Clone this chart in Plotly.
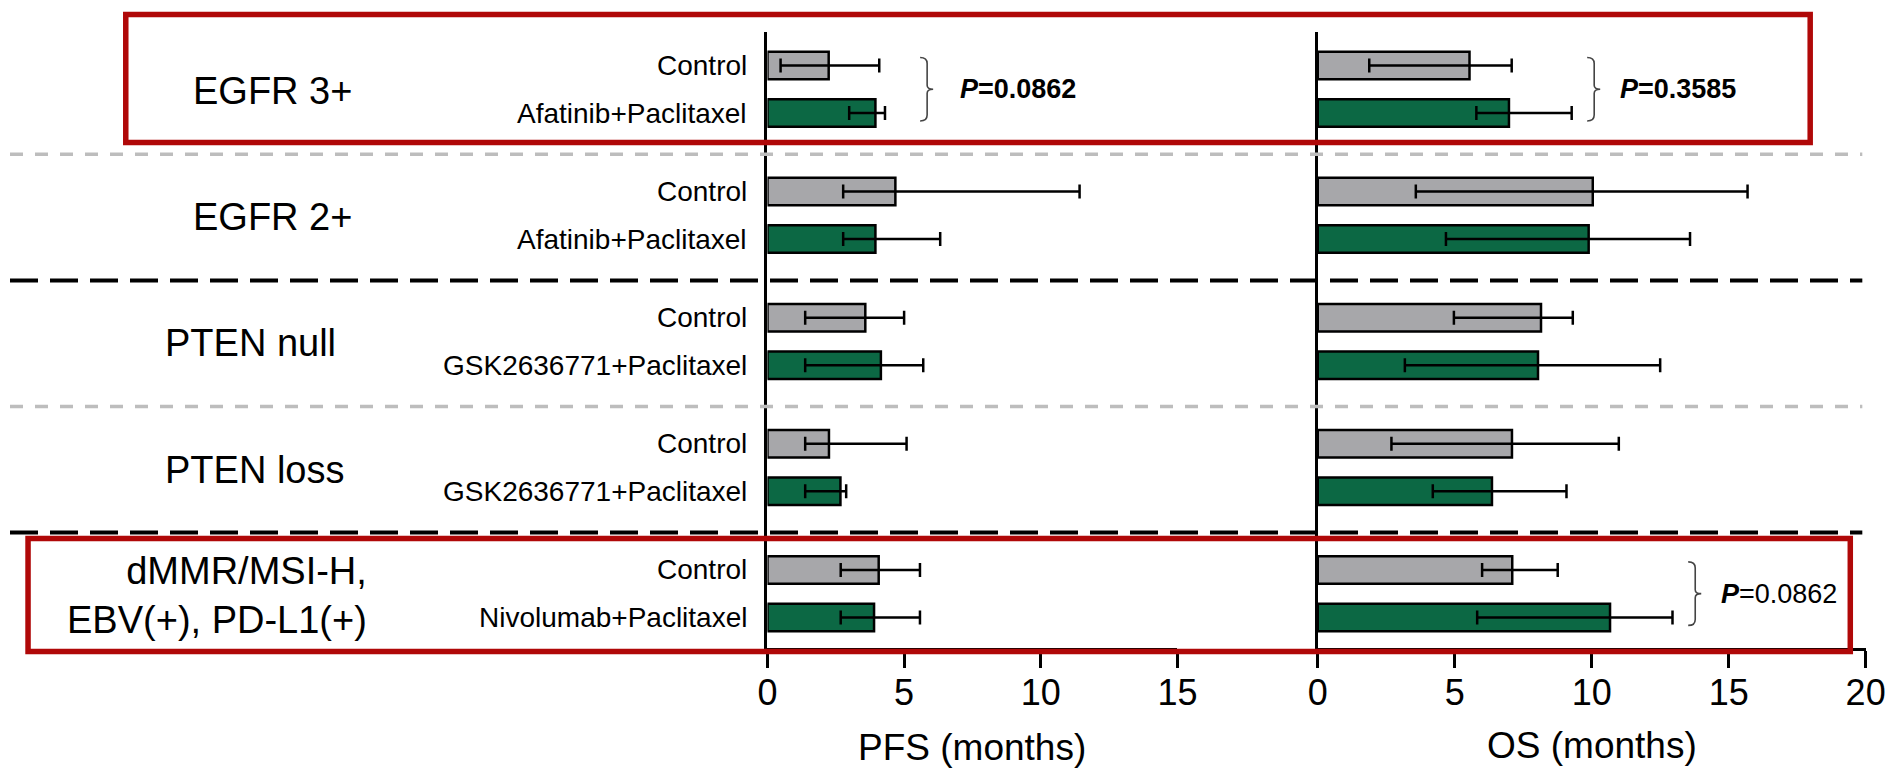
import plotly.graph_objects as go

# ---------------- data ----------------
groups = ["EGFR 3+", "EGFR 2+", "PTEN null", "PTEN loss", "dMMR/MSI-H,<br>EBV(+), PD-L1(+)"]
control_label = "Control"
treatments = ["Afatinib+Paclitaxel", "Afatinib+Paclitaxel", "GSK2636771+Paclitaxel",
              "GSK2636771+Paclitaxel", "Nivolumab+Paclitaxel"]

pfs_ctrl = [2.24, 4.68, 3.58, 2.25, 4.07]
pfs_ctrl_lo = [0.48, 2.77, 1.38, 1.38, 2.68]
pfs_ctrl_hi = [4.09, 11.42, 5.00, 5.09, 5.58]
pfs_trt = [3.95, 3.95, 4.15, 2.67, 3.90]
pfs_trt_lo = [2.99, 2.77, 1.38, 1.38, 2.68]
pfs_trt_hi = [4.30, 6.32, 5.70, 2.88, 5.58]

os_ctrl = [5.54, 10.04, 8.15, 7.09, 7.10]
os_ctrl_lo = [1.88, 3.58, 4.97, 2.69, 6.00]
os_ctrl_hi = [7.08, 15.69, 9.31, 10.99, 8.76]
os_trt = [6.98, 9.89, 8.04, 6.36, 10.67]
os_trt_lo = [5.79, 4.68, 3.18, 4.20, 5.82]
os_trt_hi = [9.27, 13.59, 12.50, 9.08, 12.95]

pvals = [("pfs", 0, "<b><i>P</i>=0.0862</b>"),
         ("os", 0, "<b><i>P</i>=0.3585</b>"),
         ("os", 4, "<b><i>P</i></b>=0.0862")]

pfs_ticks = [0, 5, 10, 15]
os_ticks = [0, 5, 10, 15, 20]

# ---------------- layout constants ----------------
FIG_W, H = 1910, 769
# the captured picture shows the page horizontally as 12 + 0.981 * x
X_OFF, X_SCALE = 12.0, 0.982
FONT = "Liberation Sans, Arial, Helvetica, sans-serif"
GRAY = "#A7A7AA"
GREEN = "#0C6844"
RED = "#B00808"

GROUP_STEP = 126.1
ARM_STEP = 47.5
FIRST_PX = 65.5
AX_TOP_PX, AX_BOT_PX = 31.7, 648.0
PFS_X0, PFS_X1 = 767.7, 1176.7
OS_X0, OS_X1 = 1316.7, 1863.3


def px_x(p):
    return ((p - X_OFF) / X_SCALE) / FIG_W


def px_y(p):
    return 1 - p / H


y_top = AX_TOP_PX - FIRST_PX
y_bot = AX_BOT_PX - FIRST_PX
ctrl_y = [g * GROUP_STEP for g in range(len(groups))]
trt_y = [g * GROUP_STEP + ARM_STEP for g in range(len(groups))]

fig = go.Figure()


def add_bars(vals, lo, hi, ys, color, xa, ya):
    fig.add_trace(go.Bar(
        x=vals, y=ys, orientation="h", width=27.5,
        marker=dict(color=color, line=dict(color="black", width=2.5)),
        error_x=dict(type="data", symmetric=False,
                     array=[h - v for h, v in zip(hi, vals)],
                     arrayminus=[v - l for v, l in zip(vals, lo)],
                     color="black", thickness=2.5, width=7),
        xaxis=xa, yaxis=ya, showlegend=False, hoverinfo="skip"))


add_bars(pfs_ctrl, pfs_ctrl_lo, pfs_ctrl_hi, ctrl_y, GRAY, "x", "y")
add_bars(pfs_trt, pfs_trt_lo, pfs_trt_hi, trt_y, GREEN, "x", "y")
add_bars(os_ctrl, os_ctrl_lo, os_ctrl_hi, ctrl_y, GRAY, "x2", "y2")
add_bars(os_trt, os_trt_lo, os_trt_hi, trt_y, GREEN, "x2", "y2")

xaxis_common = dict(showline=True, linecolor="black", linewidth=2.5, ticks="outside",
                    ticklen=17, tickwidth=2.5, tickcolor="black", showgrid=False,
                    zeroline=False, ticklabelstandoff=-6,
                    tickfont=dict(family=FONT, size=36, color="black"))
yaxis_common = dict(showline=True, linecolor="black", linewidth=2.5, ticks="",
                    showticklabels=False, showgrid=False, zeroline=False,
                    range=[y_bot, y_top], domain=[px_y(AX_BOT_PX), px_y(AX_TOP_PX)])

fig.update_layout(
    width=FIG_W, height=H, autosize=False, margin=dict(l=0, r=0, t=0, b=0, pad=0),
    paper_bgcolor="white", plot_bgcolor="rgba(0,0,0,0)",
    barmode="overlay",
    xaxis=dict(domain=[px_x(PFS_X0), px_x(PFS_X1)], range=[0, 15], tickvals=pfs_ticks,
               anchor="y", **xaxis_common),
    xaxis2=dict(domain=[px_x(OS_X0), px_x(OS_X1)], range=[0, 20], tickvals=os_ticks,
                anchor="y2", **xaxis_common),
    yaxis=dict(anchor="x", **yaxis_common),
    yaxis2=dict(anchor="x2", **yaxis_common),
    font=dict(family=FONT, color="black"),
)

ann = []
for g in range(len(groups)):
    for txt, yy in ((control_label, ctrl_y[g]), (treatments[g], trt_y[g])):
        ann.append(dict(text=txt, x=px_x(749), xref="paper", xanchor="right",
                        y=yy, yref="y", yanchor="middle", showarrow=False,
                        font=dict(size=28, family=FONT, color="black")))

group_label_x = [273.5, 273.5, 252, 256, 370]
for g, name in enumerate(groups):
    mid = (ctrl_y[g] + trt_y[g]) / 2 + 2
    last = g == len(groups) - 1
    ann.append(dict(text=name, x=px_x(group_label_x[g]), xref="paper",
                    xanchor="right" if last else "center", align="right",
                    y=mid, yref="y", yanchor="middle", showarrow=False,
                    font=dict(size=38, family=FONT, color="black")))

ann.append(dict(text="PFS (months)", x=px_x((PFS_X0 + PFS_X1) / 2), xref="paper",
                y=px_y(747), yref="paper", xanchor="center", yanchor="middle",
                showarrow=False, font=dict(size=37, family=FONT, color="black")))
ann.append(dict(text="OS (months)", x=px_x((OS_X0 + OS_X1) / 2), xref="paper",
                y=px_y(745), yref="paper", xanchor="center", yanchor="middle",
                showarrow=False, font=dict(size=37, family=FONT, color="black")))

shapes = []
bracket_x = {("pfs", 0): 927, ("os", 0): 1592.5, ("os", 4): 1693.3}
text_gap = {"pfs": 31, "os": 24}
for panel, g, txt in pvals:
    bx = bracket_x[(panel, g)]
    top = ctrl_y[g] - 8
    bot = trt_y[g] + 8
    mid = (top + bot) / 2
    xl, x0, xr = px_x(bx - 7), px_x(bx), px_x(bx + 6)
    path = (f"M {xl},{top} Q {x0},{top} {x0},{top + 6} L {x0},{mid - 4} "
            f"Q {x0},{mid} {xr},{mid} Q {x0},{mid} {x0},{mid + 4} "
            f"L {x0},{bot - 6} Q {x0},{bot} {xl},{bot}")
    shapes.append(dict(type="path", path=path, xref="paper", yref="y",
                       line=dict(color="#444444", width=1.6), layer="above"))
    ann.append(dict(text=txt, x=px_x(bx + text_gap[panel]), xref="paper", xanchor="left",
                    y=mid, yref="y", yanchor="middle", showarrow=False,
                    font=dict(size=27, family=FONT, color="black")))

sep_styles = [("#BDBDBD", 3.5, "13px,12px"), ("black", 4, "28px,12px"),
              ("#BDBDBD", 3.5, "13px,12px"), ("black", 4, "28px,12px")]
for g in range(len(groups) - 1):
    yy = (trt_y[g] + ctrl_y[g + 1]) / 2 + 2
    col, wd, dash = sep_styles[g]
    shapes.append(dict(type="line", xref="paper", yref="y", x0=px_x(12), x1=px_x(1860),
                       y0=yy, y1=yy, line=dict(color=col, width=wd, dash=dash),
                       layer="above"))

for (l, t, r, b) in [(127.5, 14.5, 1808, 142.5), (30, 538.5, 1848, 651.5)]:
    shapes.append(dict(type="rect", xref="paper", yref="paper",
                       x0=px_x(l), x1=px_x(r), y0=px_y(b), y1=px_y(t),
                       line=dict(color=RED, width=5.5), fillcolor="rgba(0,0,0,0)",
                       layer="above"))

fig.update_layout(annotations=ann, shapes=shapes)
fig.write_html("out.html", config={"responsive": False})
